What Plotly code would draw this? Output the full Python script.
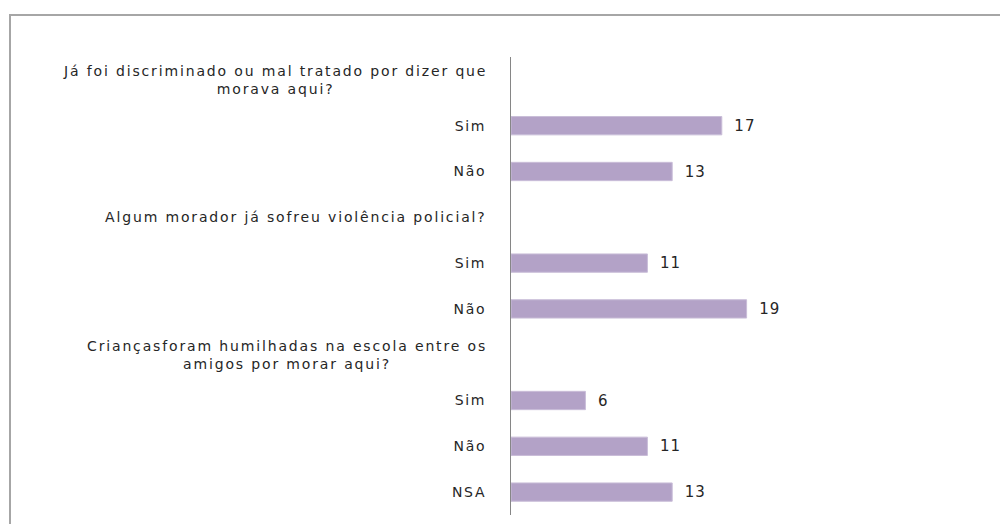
import plotly.graph_objects as go

# Data (top to bottom)
categories = [
    "Já foi discriminado ou mal tratado por dizer que<br>morava aqui?",
    "Sim", "Não",
    "Algum morador já sofreu violência policial?",
    "Sim", "Não",
    "Criançasforam humilhadas na escola entre os<br>amigos por morar aqui?",
    "Sim", "Não", "NSA",
]
is_header = [True, False, False, True, False, False, True, False, False, False]
values = [None, 17, 13, None, 11, 19, None, 6, 11, 13]

positions = list(range(len(categories)))
bar_y = [p for p, h in zip(positions, is_header) if not h]
bar_x = [v for v, h in zip(values, is_header) if not h]
tick_vals = bar_y
tick_text = [c for c, h in zip(categories, is_header) if not h]

FONT = "DejaVu Sans"
TXT = "#262626"


def spaced(s, ls):
    tpl = '<span style="letter-spacing:%spx">{}</span>' % ls
    return "<br>".join(tpl.format(line) for line in s.split("<br>"))


fig = go.Figure()
fig.add_trace(go.Bar(
    y=bar_y, x=bar_x, orientation="h",
    marker=dict(color="#B3A2C7", line=dict(color="#C9BDD8", width=1)),
    width=0.4,
    text=["\u00a0\u00a0" + '<span style="letter-spacing:1px">' + str(v) + "</span>" for v in bar_x],
    textposition="outside",
    textfont=dict(family=FONT, size=15, color=TXT),
    cliponaxis=False,
    hoverinfo="skip",
))

# Header labels (centered multi-line)
for p, c, h in zip(positions, categories, is_header):
    if h:
        fig.add_annotation(
            x=0, xref="paper", xanchor="right", xshift=-22,
            y=p, yref="y", yanchor="middle",
            text=spaced(c, 1.85), showarrow=False, align="center",
            font=dict(family=FONT, size=14, color=TXT),
        )

# page offset of 8px (body margin) is compensated here
OFF = 8
plot_l, plot_r, plot_t, plot_b = 511 - OFF, 759 - OFF, 57 - OFF, 515 - OFF
W, H = 1000, 516


def px_to_paper_x(px):
    return (px - OFF - plot_l) / (plot_r - plot_l)


def px_to_paper_y(py):
    return (plot_b - (py - OFF)) / (plot_b - plot_t)


fig.add_shape(
    type="rect", xref="paper", yref="paper",
    x0=px_to_paper_x(10), x1=px_to_paper_x(1030),
    y0=px_to_paper_y(560), y1=px_to_paper_y(15),
    line=dict(color="#A6A6A6", width=2), fillcolor="rgba(0,0,0,0)",
    layer="below",
)

fig.update_layout(
    width=W, height=H,
    margin=dict(l=plot_l, r=W - plot_r, t=plot_t, b=H - plot_b, pad=0),
    paper_bgcolor="white", plot_bgcolor="white",
    showlegend=False,
    font=dict(family=FONT, size=14, color=TXT),
    bargap=0.6,
)
fig.update_xaxes(range=[0, 20], visible=False, showgrid=False, zeroline=False)
fig.update_yaxes(
    range=[9.5, -0.5], tickmode="array", tickvals=tick_vals,
    ticktext=[spaced(t, 1.7) for t in tick_text],
    showgrid=False, zeroline=False, showline=True, linecolor="#868686", linewidth=1,
    ticks="", ticklabelstandoff=21,
    tickfont=dict(family=FONT, size=14, color=TXT),
)

fig.write_html("out.html")
